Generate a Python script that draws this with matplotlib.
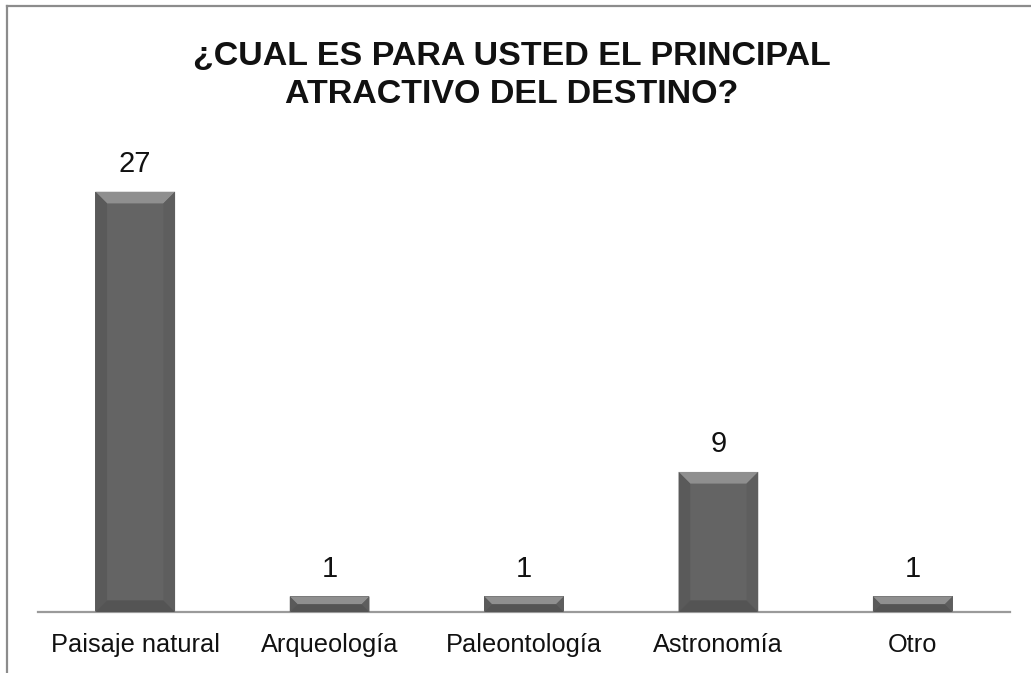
import matplotlib.pyplot as plt
from matplotlib.patches import Polygon
from matplotlib.lines import Line2D

categories = ['Paisaje natural', 'Arqueología', 'Paleontología', 'Astronomía', 'Otro']
values = [27, 1, 1, 9, 1]
title = '¿CUAL ES PARA USTED EL PRINCIPAL\nATRACTIVO DEL DESTINO?'

plt.rcParams['font.family'] = ['Liberation Sans', 'DejaVu Sans']

fig = plt.figure(figsize=(10.31, 6.73), dpi=100)
ax = fig.add_axes([0.0369, 0.0906, 0.9427, 0.6939])

x = list(range(len(categories)))
bars = ax.bar(x, values, width=0.41, color='#646464', zorder=2)

ax.set_xlim(-0.5, len(categories) - 0.5)
ax.set_ylim(0, 30)

# bevel look on each bar (45 degree corners, ~12 px deep)
ppx = 194.4  # px per x unit
ppy = 15.56  # px per y unit
for b in bars:
    x0, y0 = b.get_x(), b.get_y()
    x1, y1 = x0 + b.get_width(), y0 + b.get_height()
    by = min(0.75, b.get_height() / 2)
    bx = by * ppy / ppx
    ax.add_patch(Polygon([(x0, y1), (x1, y1), (x1 - bx, y1 - by), (x0 + bx, y1 - by)],
                         closed=True, color='#8f8f8f', lw=0, zorder=3))
    ax.add_patch(Polygon([(x0, y0), (x0, y1), (x0 + bx, y1 - by), (x0 + bx, y0 + by)],
                         closed=True, color='#5a5a5a', lw=0, zorder=3))
    ax.add_patch(Polygon([(x1, y0), (x1, y1), (x1 - bx, y1 - by), (x1 - bx, y0 + by)],
                         closed=True, color='#5e5e5e', lw=0, zorder=3))
    ax.add_patch(Polygon([(x0, y0), (x1, y0), (x1 - bx, y0 + by), (x0 + bx, y0 + by)],
                         closed=True, color='#545454', lw=0, zorder=3))

for xi, v in zip(x, values):
    ax.annotate(str(v), xy=(xi, v), xytext=(0, 10), textcoords='offset points',
                ha='center', va='bottom', fontsize=21, color='#111111')

for s in ['top', 'right', 'left']:
    ax.spines[s].set_visible(False)
ax.spines['bottom'].set_color('#9a9a9a')
ax.spines['bottom'].set_linewidth(1.6)
ax.set_yticks([])
ax.set_xticks(x)
ax.set_xticklabels(categories, fontsize=18.3, color='#111111')
ax.tick_params(axis='x', length=0, pad=15)

fig.text(0.496, 0.888, title, ha='center', va='center', fontsize=24.5,
         fontweight='bold', linespacing=1.32, color='#111111')

# chart frame (left and top edges visible)
fig.add_artist(Line2D([7 / 1031, 7 / 1031], [0, 1 - 6 / 673], transform=fig.transFigure,
                      color='#8c8c8c', lw=1.6))
fig.add_artist(Line2D([7 / 1031, 1], [1 - 6 / 673, 1 - 6 / 673], transform=fig.transFigure,
                      color='#8c8c8c', lw=1.6))

plt.savefig('out.png', dpi=100)
